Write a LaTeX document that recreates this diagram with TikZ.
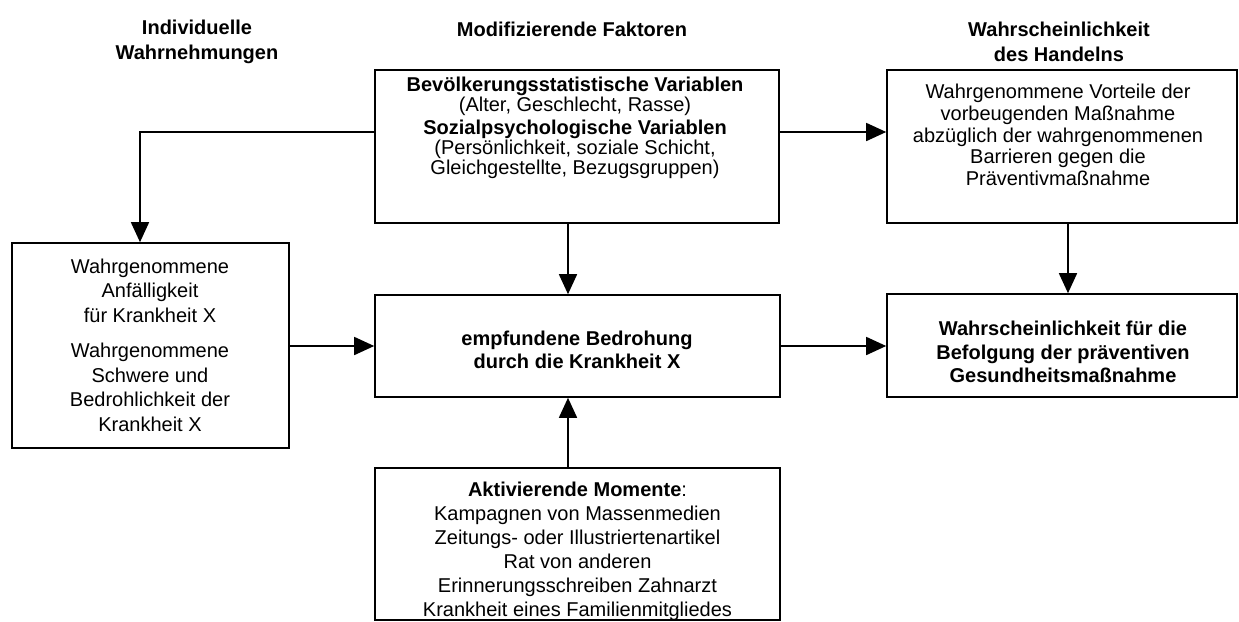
\documentclass[tikz,border=0pt]{standalone}
\usepackage{fontspec}
\setmainfont{Liberation Sans}
\usetikzlibrary{arrows.meta,calc}
\begin{document}
\begin{tikzpicture}[x=1pt,y=-1pt,
  box/.style={draw, line width=1.6pt, inner sep=0pt, rectangle},
  hdr/.style={align=center, inner sep=0pt, font=\fontsize{20}{25}\selectfont\bfseries},
  txt/.style={align=center, inner sep=0pt},
  arr/.style={line width=1.6pt, -{Triangle[length=20pt,width=18pt]}}
]
\useasboundingbox (0,0) rectangle (1239,621);
% headers
\node[hdr] (h1) at (197,42) {Individuelle\\Wahrnehmungen};
\node[hdr] (h2) at (572,29) {Modifizierende Faktoren};
\node[hdr] (h3) at (1059,42) {Wahrscheinlichkeit\\des Handelns};
% boxes
\node[box, minimum width=404pt, minimum height=153pt] (bev) at (577,146.5) {};
\node[box, minimum width=350pt, minimum height=153pt] (vor) at (1062,146.5) {};
\node[box, minimum width=277pt, minimum height=205pt] (left) at (150.5,345.5) {};
\node[box, minimum width=405pt, minimum height=102pt] (emp) at (577.5,346) {};
\node[box, minimum width=350pt, minimum height=103pt] (wahr) at (1062,345.5) {};
\node[box, minimum width=405pt, minimum height=152pt] (akt) at (577.5,544) {};
% texts
\node[txt, font=\fontsize{20}{20}\selectfont] (bevt) at (575,128)
  {\textbf{Bevölkerungsstatistische Variablen}\\(Alter, Geschlecht, Rasse)\\[3pt]
   \textbf{Sozialpsychologische Variablen}\\(Persönlichkeit, soziale Schicht,\\Gleichgestellte, Bezugsgruppen)};
\node[txt, font=\fontsize{20}{21.7}\selectfont] (vort) at (1058,135)
  {Wahrgenommene Vorteile der\\vorbeugenden Maßnahme\\abzüglich der wahrgenommenen\\Barrieren gegen die\\Präventivmaßnahme};
\node[txt, font=\fontsize{20}{24.5}\selectfont] (leftt) at (150,345)
  {Wahrgenommene\\Anfälligkeit\\für Krankheit X\\[11pt]Wahrgenommene\\Schwere und\\Bedrohlichkeit der\\Krankheit X};
\node[txt, font=\fontsize{20}{23}\selectfont\bfseries] (empt) at (577,350)
  {empfundene Bedrohung\\durch die Krankheit X};
\node[txt, font=\fontsize{20}{23.5}\selectfont\bfseries] (wahrt) at (1063,352)
  {Wahrscheinlichkeit für die\\Befolgung der präventiven\\Gesundheitsmaßnahme};
\node[txt, font=\fontsize{20}{24}\selectfont] (aktt) at (577.5,551)
  {\textbf{Aktivierende Momente}:\\Kampagnen von Massenmedien\\Zeitungs- oder Illustriertenartikel\\Rat von anderen\\Erinnerungsschreiben Zahnarzt\\Krankheit eines Familienmitgliedes};
% connectors
\coordinate (c1) at (140,132);
\coordinate (c2) at (568,0);
\coordinate (c3) at (0,346);
\coordinate (c4) at (1068,0);
\draw[arr] (bev.west |- c1) -| (left.north -| c1);
\draw[arr] (bev.south -| c2) -- (emp.north -| c2);
\draw[arr] (bev.east |- c1) -- (vor.west |- c1);
\draw[arr] (vor.south -| c4) -- (wahr.north -| c4);
\draw[arr] (left.east |- c3) -- (emp.west |- c3);
\draw[arr] (emp.east |- c3) -- (wahr.west |- c3);
\draw[arr] (akt.north -| c2) -- (emp.south -| c2);
\end{tikzpicture}
\end{document}
